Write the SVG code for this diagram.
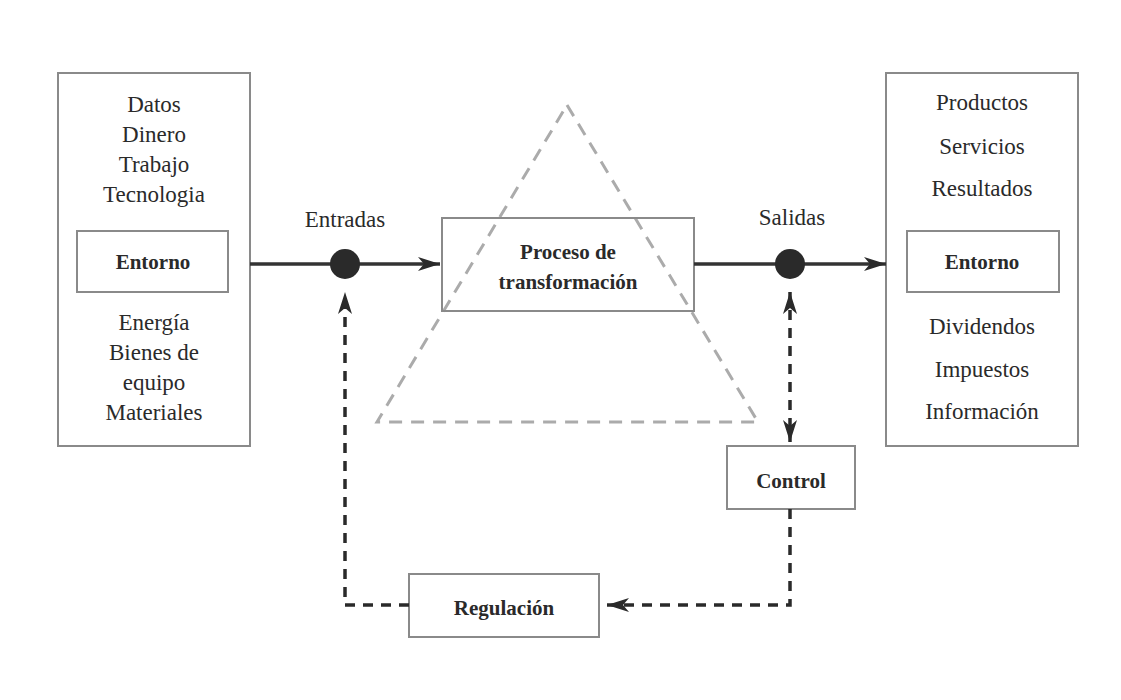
<svg xmlns="http://www.w3.org/2000/svg" width="1121" height="700" viewBox="0 0 1121 700">
<style>
  text { font-family: "Liberation Serif", "DejaVu Serif", serif; fill: #2a2a2a; text-anchor: middle; }
  .t { font-size: 23px; }
  .b { font-size: 21px; font-weight: bold; }
  .box { fill: none; stroke: #8a8a8a; stroke-width: 2; }
  .main { stroke: #333; stroke-width: 3.5; fill: none; }
  .dash { stroke: #2a2a2a; stroke-width: 3.5; fill: none; stroke-dasharray: 10 8; }
  .tri { stroke: #ababab; stroke-width: 3; fill: none; stroke-dasharray: 13 9; }
</style>
<defs>
  <marker id="ah" viewBox="0 0 22 14" refX="22" refY="7" markerWidth="22" markerHeight="14" markerUnits="userSpaceOnUse" orient="auto-start-reverse">
    <path d="M0,0 L22,7 L0,14 L6,7 Z" fill="#2a2a2a"/>
  </marker>
</defs>
<rect width="1121" height="700" fill="#fff"/>

<g id="triangle">
  <polygon class="tri" points="567,105 758,422 377,422"/>
</g>

<g id="entorno-entradas">
  <rect class="box" x="58" y="73" width="192" height="373"/>
  <text class="t" x="154" y="112">Datos</text>
  <text class="t" x="154" y="142">Dinero</text>
  <text class="t" x="154" y="172">Trabajo</text>
  <text class="t" x="154" y="202">Tecnologia</text>
  <rect class="box" x="77" y="231" width="151" height="61"/>
  <text class="b" x="153" y="269">Entorno</text>
  <text class="t" x="154" y="330">Energía</text>
  <text class="t" x="154" y="360">Bienes de</text>
  <text class="t" x="154" y="390">equipo</text>
  <text class="t" x="154" y="420">Materiales</text>
</g>

<g id="proceso">
  <rect class="box" x="442" y="218" width="252" height="93"/>
  <text class="b" x="568" y="259">Proceso de</text>
  <text class="b" x="568" y="289">transformación</text>
</g>

<g id="entorno-salidas">
  <rect class="box" x="886" y="73" width="192" height="373"/>
  <text class="t" x="982" y="110">Productos</text>
  <text class="t" x="982" y="154">Servicios</text>
  <text class="t" x="982" y="196">Resultados</text>
  <rect class="box" x="907" y="231" width="152" height="61"/>
  <text class="b" x="982" y="269">Entorno</text>
  <text class="t" x="982" y="334">Dividendos</text>
  <text class="t" x="982" y="377">Impuestos</text>
  <text class="t" x="982" y="419">Información</text>
</g>

<g id="control">
  <rect class="box" x="727" y="446" width="128" height="63"/>
  <text class="b" x="791" y="488">Control</text>
</g>

<g id="regulacion">
  <rect class="box" x="409" y="574" width="190" height="63"/>
  <text class="b" x="504" y="615">Regulación</text>
</g>

<g id="labels">
  <text class="t" x="345" y="227">Entradas</text>
  <text class="t" x="792" y="225">Salidas</text>
</g>

<g id="connectors">
  <line class="main" x1="250" y1="264" x2="440" y2="264" marker-end="url(#ah)"/>
  <line class="main" x1="694" y1="264" x2="886" y2="264" marker-end="url(#ah)"/>
  <circle cx="345" cy="264" r="15" fill="#2a2a2a"/>
  <circle cx="790" cy="264" r="15" fill="#2a2a2a"/>
  <line class="dash" x1="790" y1="292" x2="790" y2="442" marker-start="url(#ah)" marker-end="url(#ah)"/>
  <polyline class="dash" points="790,509 790,605 607,605" marker-end="url(#ah)"/>
  <polyline class="dash" points="409,605 345,605 345,292" marker-end="url(#ah)"/>
</g>
</svg>
